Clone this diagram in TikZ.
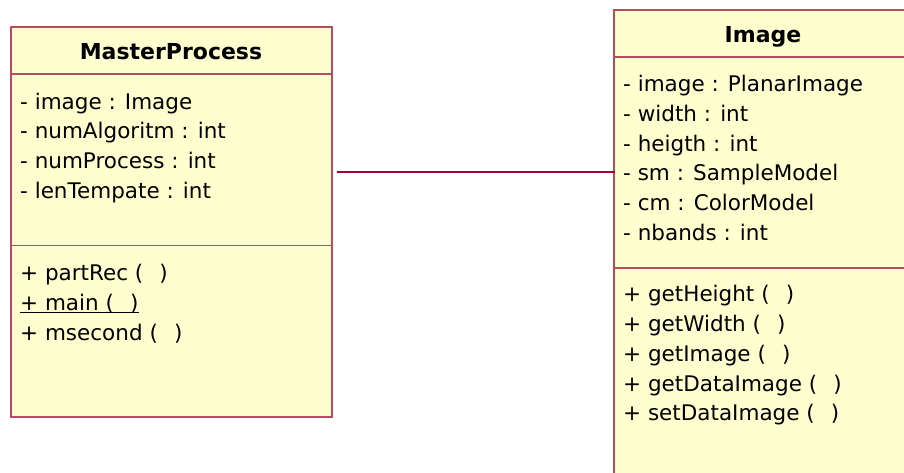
\documentclass[tikz,border=0pt]{standalone}
\usepackage{fontspec}
\setmainfont{DejaVu Sans}
\definecolor{boxfill}{HTML}{FEFECE}
\definecolor{boxline}{HTML}{B84A62}
\definecolor{assoc}{HTML}{A80036}
\tikzset{
  classbox/.style={draw=boxline, fill=boxfill, line width=1.5pt, inner sep=0pt, anchor=north west},
  divider/.style={draw=boxline, line width=1.5pt},
  member/.style={anchor=base west, inner sep=0pt, font=\fontsize{21.5}{25}\selectfont},
  ctitle/.style={anchor=base, inner sep=0pt, font=\fontsize{22}{26}\selectfont\bfseries},
  assocline/.style={draw=assoc, line width=1.8pt},
}
\newcommand{\gap}{(\hspace{0.75em})}
\begin{document}
\begin{tikzpicture}[x=1pt,y=-1pt]
\useasboundingbox (0,0) rectangle (904,472);
\clip (0,0) rectangle (904,472);
\fill[white] (0,0) rectangle (904,472);

% MasterProcess
\node[classbox, minimum width=321pt, minimum height=390pt] (mp) at (10,26) {};
\draw[divider] (mp.north west |- 0,74) -- (mp.north east |- 0,74);
\draw[divider] (mp.north west |- 0,245.5) -- (mp.north east |- 0,245.5);
\node[ctitle] (mpt) at (171,59.3) {MasterProcess};
\node[member] (mpa1) at (20,109) {- image : Image};
\node[member] (mpa2) at (20,138.7) {- numAlgoritm : int};
\node[member] (mpa3) at (20,168.4) {- numProcess : int};
\node[member] (mpa4) at (20,198.1) {- lenTempate : int};
\node[member] (mpm1) at (20,280) {+ partRec \gap};
\node[member] (mpm2) at (20,310) {+ main \gap};
\draw[line width=1.4pt] ([yshift=-2.4pt]mpm2.base west) -- ([yshift=-2.4pt]mpm2.base east);
\node[member] (mpm3) at (20,340) {+ msecond \gap};

% Image
\node[classbox, minimum width=300pt, minimum height=480pt] (img) at (613,9) {};
\draw[divider] (img.north west |- 0,57) -- (img.north east |- 0,57);
\draw[divider] (img.north west |- 0,268) -- (img.north east |- 0,268);
\node[ctitle] (imgt) at (763,42.7) {Image};
\node[member] (ia1) at (623,91.7) {- image : PlanarImage};
\node[member] (ia2) at (623,121.4) {- width : int};
\node[member] (ia3) at (623,151.1) {- heigth : int};
\node[member] (ia4) at (623,180.8) {- sm : SampleModel};
\node[member] (ia5) at (623,210.5) {- cm : ColorModel};
\node[member] (ia6) at (623,240.2) {- nbands : int};
\node[member] (im1) at (623,301.7) {+ getHeight \gap};
\node[member] (im2) at (623,331.5) {+ getWidth \gap};
\node[member] (im3) at (623,361.3) {+ getImage \gap};
\node[member] (im4) at (623,391.1) {+ getDataImage \gap};
\node[member] (im5) at (623,420.9) {+ setDataImage \gap};

% association
\coordinate (ly) at (0,172);
\draw[assocline] ([xshift=4pt]mp.east |- ly) -- ([xshift=2pt]img.west |- ly);
\end{tikzpicture}
\end{document}
